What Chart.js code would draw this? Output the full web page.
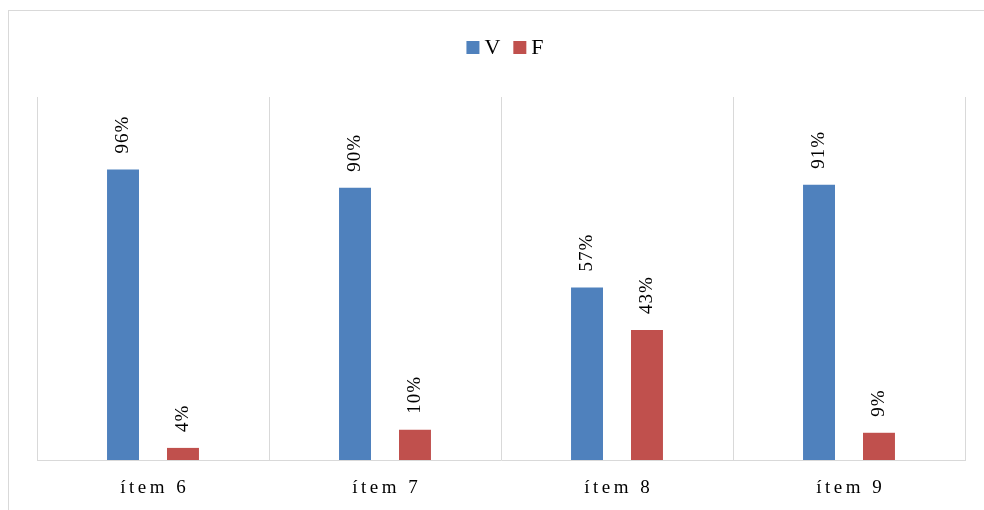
<!DOCTYPE html>
<html>
<head>
<meta charset="utf-8">
<script src="https://cdn.jsdelivr.net/npm/chart.js@4.4.0/dist/chart.umd.min.js"></script>
<style>
  body { margin: 0; background: #fff; }
</style>
</head>
<body>
<canvas id="myChart" width="984" height="510"></canvas>
<script>
const categorias = ['ítem 6', 'ítem 7', 'ítem 8', 'ítem 9'];
const valoresV = [96, 90, 57, 91];
const valoresF = [4, 10, 43, 9];
const yTicks = [0, 20, 40, 60, 80, 100, 120];

const fonte = '"Liberation Serif", "Times New Roman", serif';

// moldura cinza em volta do gráfico
const moldura = {
  id: 'moldura',
  beforeDraw(chart) {
    const c = chart.ctx;
    c.save();
    c.strokeStyle = '#d9d9d9';
    c.lineWidth = 1;
    c.strokeRect(8.5, 10.5, 1000, 1000);
    c.restore();
  }
};

// legenda desenhada à mão para ficar no lugar certo
const legenda = {
  id: 'legenda',
  afterDraw(chart) {
    const c = chart.ctx;
    const ds = chart.data.datasets;
    c.save();
    c.font = '22px ' + fonte;
    c.textBaseline = 'middle';
    const caixa = 13, gap = 5, espaco = 13;
    let total = 0;
    ds.forEach((d, i) => {
      total += caixa + gap + c.measureText(d.label).width + (i < ds.length - 1 ? espaco : 0);
    });
    let x = 505 - total / 2;
    const y = 47.5;
    ds.forEach(d => {
      c.fillStyle = d.backgroundColor;
      c.fillRect(x, y - caixa / 2, caixa, caixa);
      x += caixa + gap;
      c.fillStyle = '#000';
      c.fillText(d.label, x, y + 1);
      x += c.measureText(d.label).width + espaco;
    });
    c.restore();
  }
};

// rótulos de valor girados acima das barras
const rotulos = {
  id: 'rotulos',
  afterDatasetsDraw(chart) {
    const c = chart.ctx;
    c.save();
    c.font = '19px ' + fonte;
    c.fillStyle = '#000';
    c.textAlign = 'left';
    c.textBaseline = 'middle';
    c.letterSpacing = '1px';
    chart.data.datasets.forEach((d, i) => {
      chart.getDatasetMeta(i).data.forEach((bar, j) => {
        c.save();
        c.translate(bar.x, bar.y - 16);
        c.rotate(-Math.PI / 2);
        c.fillText(d.data[j] + '%', 0, 0);
        c.restore();
      });
    });
    c.restore();
  }
};

// nomes das categorias com espaçamento entre letras
const categoriasEixo = {
  id: 'categoriasEixo',
  afterDraw(chart) {
    const c = chart.ctx;
    const escala = chart.scales.x;
    const ls = 3.5;
    c.save();
    c.font = '19px ' + fonte;
    c.fillStyle = '#000';
    c.textAlign = 'center';
    c.textBaseline = 'middle';
    c.letterSpacing = ls + 'px';
    categorias.forEach((cat, i) => {
      c.fillText(cat, escala.getPixelForTick(i) + ls / 2, 488);
    });
    c.restore();
  }
};

const ctx = document.getElementById('myChart').getContext('2d');
const myChart = new Chart(ctx, {
  type: 'bar',
  data: {
    labels: categorias,
    datasets: [{
      label: 'V',
      data: valoresV,
      backgroundColor: '#4f81bd',
      borderWidth: 0
    }, {
      label: 'F',
      data: valoresF,
      backgroundColor: '#c0504d',
      borderWidth: 0
    }]
  },
  options: {
    responsive: false,
    animation: false,
    categoryPercentage: 0.517,
    barPercentage: 0.533,
    layout: {
      padding: { top: 97, left: 37, right: 19, bottom: 50 }
    },
    plugins: {
      legend: { display: false },
      tooltip: { enabled: false }
    },
    scales: {
      x: {
        grid: {
          color: '#d9d9d9',
          drawTicks: false,
          offset: true
        },
        border: { color: '#d9d9d9' },
        ticks: { display: false }
      },
      y: {
        display: false,
        min: yTicks[0],
        max: yTicks[yTicks.length - 1],
        ticks: { stepSize: 20 }
      }
    }
  },
  plugins: [moldura, legenda, rotulos, categoriasEixo]
});
</script>
</body>
</html>
